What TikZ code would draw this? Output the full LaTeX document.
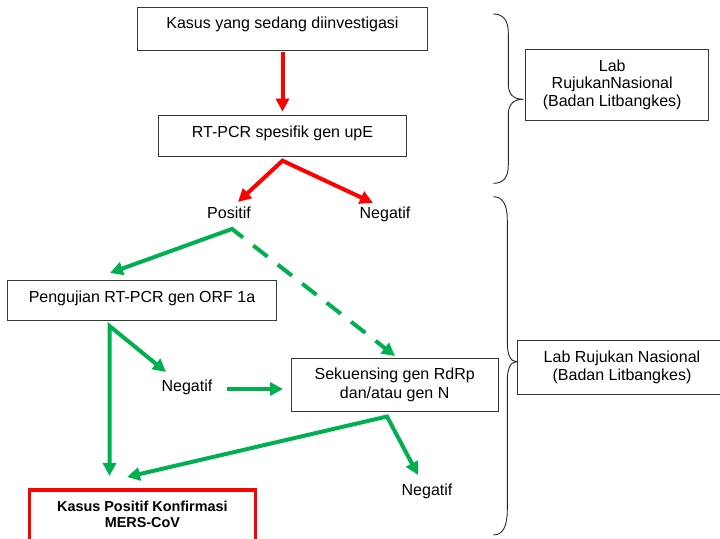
\documentclass[tikz,border=0pt]{standalone}
\usepackage{fontspec}
\setmainfont{Liberation Sans}
\usetikzlibrary{arrows.meta,calc}
\definecolor{grn}{HTML}{00B050}
\definecolor{bxc}{HTML}{383838}
\begin{document}
\begin{tikzpicture}[x=1pt,y=-1pt,
  sbox/.style={draw=bxc, line width=0.8pt, inner sep=0pt, text height=12pt, font=\fontsize{16}{19}\selectfont},
  mbox/.style={draw=bxc, line width=0.8pt, inner sep=0pt, align=center},
  lbl/.style={inner sep=0pt, text height=11.5pt, text depth=0pt, font=\fontsize{16}{19}\selectfont},
  tri/.tip={Triangle[length=13pt,width=13pt]},
  rl/.style={draw=red, line width=4pt},
  gl/.style={draw=grn, line width=4pt},
  brc/.style={draw=black!85, line width=0.9pt}
]
\clip (0,0) rectangle (720,538);
% boxes
\node[sbox, minimum width=290.4pt, minimum height=42.7pt, text depth=12.8pt] (b1) at (282.5,28.7) {Kasus yang sedang diinvestigasi};
\node[sbox, minimum width=248.4pt, minimum height=41pt, text depth=8.4pt] (b2) at (282.5,135.5) {RT-PCR spesifik gen upE};
\node[lbl] (pos) at (229,213) {Positif};
\node[lbl] (neg1) at (385,213) {Negatif};
\node[sbox, minimum width=269.4pt, minimum height=40pt, text depth=8.4pt] (b3) at (142,300.7) {Pengujian RT-PCR gen ORF 1a};
\node[lbl] (neg2) at (187,386) {Negatif};
\node[mbox, minimum width=207.3pt, minimum height=53.4pt, font=\fontsize{16}{19}\selectfont] (b4) at (394.7,385) {Sekuensing gen RdRp\\dan/atau gen N};
\node[lbl] (neg3) at (427,490) {Negatif};
\node[draw=red, line width=3.3pt, outer sep=0pt, inner sep=0pt, minimum width=225.8pt, anchor=north, align=center, font=\bfseries\fontsize{14.4}{15.5}\selectfont] (b5) at (142.4,490) {\rule{0pt}{21.5pt}Kasus Positif Konfirmasi\\MERS-CoV\rule[-30pt]{0pt}{30pt}};
\node[mbox, minimum width=183.3pt, minimum height=70.7pt, font=\fontsize{16}{17.5}\selectfont] (lab1) at (616.7,84.7) {Lab\kern9pt\\RujukanNasional\kern9pt\\(Badan Litbangkes)\kern9pt};
\node[mbox, minimum width=208.6pt, minimum height=53.3pt, font=\fontsize{16}{18}\selectfont] (lab2) at (622,367.3) {Lab Rujukan Nasional\\(Badan Litbangkes)};
% coordinates
\coordinate (r0) at ($(b2.south)+(0,4.3)$);
\coordinate (tP) at (238,202);
\coordinate (tN) at (373,203);
\coordinate (g0) at ($(pos.south)+(3,10)$);
\coordinate (tA) at (110,273);
\coordinate (tD) at (395,356);
\coordinate (g1) at ($(g0)!14pt!(tD)$);
\coordinate (j3) at (109.5,326);
\coordinate (tV) at (109.5,476);
\coordinate (tN2) at (166,372);
\coordinate (h1) at (227,389);
\coordinate (h2) at (283,389);
\coordinate (j4) at (387,416.5);
\coordinate (t5) at (127,477);
\coordinate (tN3) at (418,475);
% red arrows
\draw[rl, -tri, shorten <=2pt, shorten >=3pt] (b1.south) -- (b2.north);
\draw[rl, tri-tri] (tP) -- (r0) -- (tN);
% green arrows
\draw[gl, tri-] (tA) -- (g0) -- (g1);
\draw[gl, dash pattern=on 18pt off 13pt, dash phase=18pt, -tri] (g1) -- (tD);
\draw[gl, tri-tri] (tV) -- (j3) -- (tN2);
\draw[gl, -tri] (h1) -- (h2);
\draw[gl, tri-tri] (t5) -- (j4) -- (tN3);
% braces
\draw[brc] (493.3,14) .. controls (503,14) and (508.3,20) .. (508.3,33) -- (508.3,84)
  .. controls (508.3,94) and (513,99.3) .. (523.3,99.3)
  .. controls (513,99.3) and (508.3,104.6) .. (508.3,115) -- (508.3,165)
  .. controls (508.3,178) and (503,183.3) .. (493.3,183.3);
\draw[brc] (493.3,196.7) .. controls (503,196.7) and (507.3,205) .. (507.3,220) -- (507.3,342)
  .. controls (507.3,354) and (510,361.7) .. (516.7,361.7)
  .. controls (510,361.7) and (507.3,369) .. (507.3,382) -- (507.3,510)
  .. controls (507.3,526) and (503,535) .. (493.3,535);
\end{tikzpicture}
\end{document}
